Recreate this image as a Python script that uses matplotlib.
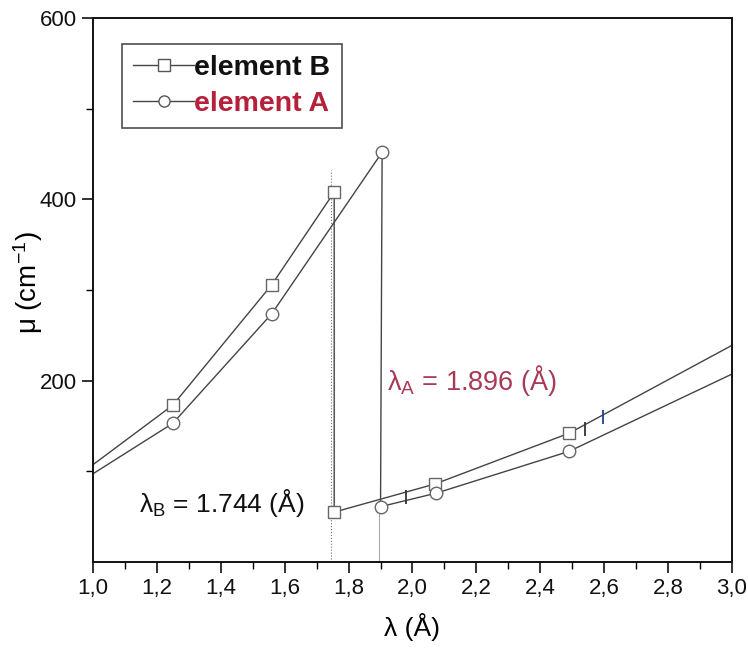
import numpy as np
import matplotlib.pyplot as plt
from matplotlib.ticker import MultipleLocator, FuncFormatter

plt.rcParams['font.family'] = ['Liberation Sans', 'DejaVu Sans']

# element B (squares)
lam_b = [0.9, 1.25, 1.56, 1.755, 1.755, 2.07, 2.49, 3.1]
mu_b = [81, 173, 306, 408, 55, 86, 142, 258]
# element A (circles)
lam_a = [0.9, 1.25, 1.56, 1.905, 1.90, 2.075, 2.49, 3.1]
mu_a = [75, 153, 274, 452, 61, 76, 122, 224]
marker_b = [False, True, True, True, True, True, True, False]
marker_a = [False, True, True, True, True, True, True, False]

edge_b = 1.744
edge_a = 1.896
edge_b_top = 432

# small pen marks on the low-energy branches
pen_x = [1.98, 2.54, 2.595]
pen_y = [72, 147, 160]
pen_col = ['#333333', '#333333', '#1f3f8f']

red = '#b5213a'
line_col = '#444444'


def plot_series(ax, x, y, mk, marker, label):
    x = np.array(x)
    y = np.array(y)
    ax.plot(x, y, color=line_col, lw=1.0, zorder=2)
    mk = np.array(mk)
    ax.plot(x[mk], y[mk], ls='none', marker=marker, ms=8 if marker == 's' else 9,
            mfc='white', mec='#666666', mew=1.0, zorder=3)
    # legend proxy
    ax.plot([], [], color=line_col, lw=1.0, marker=marker, ms=8,
            mfc='white', mec='#555555', mew=1.0, label=label)


fig = plt.figure(figsize=(7.48, 6.5), dpi=100)
ax = fig.add_axes([0.1243, 0.1354, 0.8543, 0.8369])

# absorption-edge guide lines
ax.plot([edge_b, edge_b], [0, edge_b_top], color='#777777', lw=0.8, ls=':', zorder=1)
ax.plot([edge_a, edge_a], [0, 60], color='#aaaaaa', lw=0.8, zorder=1)

plot_series(ax, lam_b, mu_b, marker_b, 's', 'element B')
plot_series(ax, lam_a, mu_a, marker_a, 'o', 'element A')

for px, py, pc in zip(pen_x, pen_y, pen_col):
    ax.plot(px, py, marker='|', ms=10, mew=1.3, color=pc, zorder=4)

ax.text(1.145, 55, r'$\mathregular{\lambda_B}$ = 1.744 (Å)', fontsize=19, color='#111111')
ax.text(1.92, 190, r'$\mathregular{\lambda_A}$ = 1.896 (Å)', fontsize=19.5, color='#a83a55')

ax.set_xlim(1.0, 3.0)
ax.set_ylim(0, 600)
ax.xaxis.set_major_locator(MultipleLocator(0.2))
ax.xaxis.set_minor_locator(MultipleLocator(0.1))
ax.xaxis.set_major_formatter(FuncFormatter(lambda v, p: f'{v:.1f}'.replace('.', ',')))
ax.set_yticks([200, 400, 600])
ax.set_yticks([100, 300, 500], minor=True)

ax.tick_params(axis='both', which='major', direction='out', length=8, width=1.2,
               labelsize=16, colors='#111111')
ax.tick_params(axis='both', which='minor', direction='out', length=5, width=1.0)
for s in ax.spines.values():
    s.set_linewidth(1.4)
    s.set_color('#111111')

ax.set_xlabel('λ (Å)', fontsize=19, labelpad=10)
ax.set_ylabel(r'μ (cm$\mathregular{^{-1}}$)', fontsize=20)
ax.yaxis.set_label_coords(-0.102, 0.513)
ax.yaxis.label.set_verticalalignment('center')

leg = ax.legend(loc='upper left', bbox_to_anchor=(0.045, 0.953), frameon=True,
                fancybox=False, edgecolor='#222222', handlelength=2.15,
                handletextpad=0.0, borderpad=0.4, labelspacing=0.35, numpoints=1,
                borderaxespad=0.0, prop={'weight': 'bold', 'size': 20.5})
leg.get_frame().set_linewidth(1.2)
leg.get_texts()[0].set_color('#111111')
leg.get_texts()[1].set_color(red)

fig.savefig('out.png', dpi=100)
